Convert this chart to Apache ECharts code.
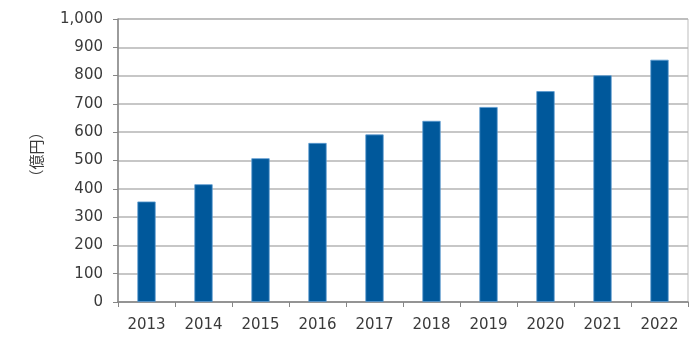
<!DOCTYPE html>
<html>
<head>
<meta charset="utf-8">
<script src="https://cdn.jsdelivr.net/npm/echarts@6/dist/echarts.min.js"></script>
<style>html,body{margin:0;padding:0;background:#fff}#c{width:700px;height:361px}</style>
</head>
<body>
<div id="c"></div>
<script>
const years = ['2013','2014','2015','2016','2017','2018','2019','2020','2021','2022'];
const values = [355, 416, 508, 562, 592, 640, 689, 745, 801, 856];
const yAxisName = '（億円）';
const yMin = 0, yMax = 1000, yStep = 100;

const chart = echarts.init(document.getElementById('c'));
const font = '"DejaVu Sans", sans-serif';
chart.setOption({
  animation: false,
  grid: { left: 118, right: 12, top: 19, bottom: 59, show: true, borderColor: '#bdbdbd', borderWidth: 1 },
  xAxis: {
    type: 'category',
    data: years,
    axisLine: { lineStyle: { color: '#868686', width: 1.5 } },
    axisTick: { show: true, length: 5, lineStyle: { color: '#868686' } },
    axisLabel: { color: '#3a3a3a', fontSize: 15, fontFamily: font, margin: 16 }
  },
  yAxis: {
    type: 'value',
    min: yMin, max: yMax, interval: yStep,
    name: yAxisName,
    nameLocation: 'middle',
    nameRotate: 90,
    nameGap: 74,
    nameTextStyle: { color: '#3a3a3a', fontSize: 15, fontFamily: '"Noto Sans CJK JP", sans-serif', padding: [0, 0, 0, 12] },
    axisLine: { show: true, lineStyle: { color: '#868686', width: 1.5 } },
    axisTick: { show: true, length: 5, lineStyle: { color: '#868686' } },
    axisLabel: { color: '#3a3a3a', fontSize: 15, fontFamily: font, margin: 15,
      formatter: v => v.toLocaleString('en-US') },
    splitLine: { lineStyle: { color: '#b4b4b4', width: 1.5 } }
  },
  series: [{
    type: 'bar',
    data: values,
    barWidth: '32%',
    itemStyle: { color: '#00589b', borderColor: '#5b9bd0', borderWidth: 0.8 }
  }]
});
</script>
</body>
</html>
